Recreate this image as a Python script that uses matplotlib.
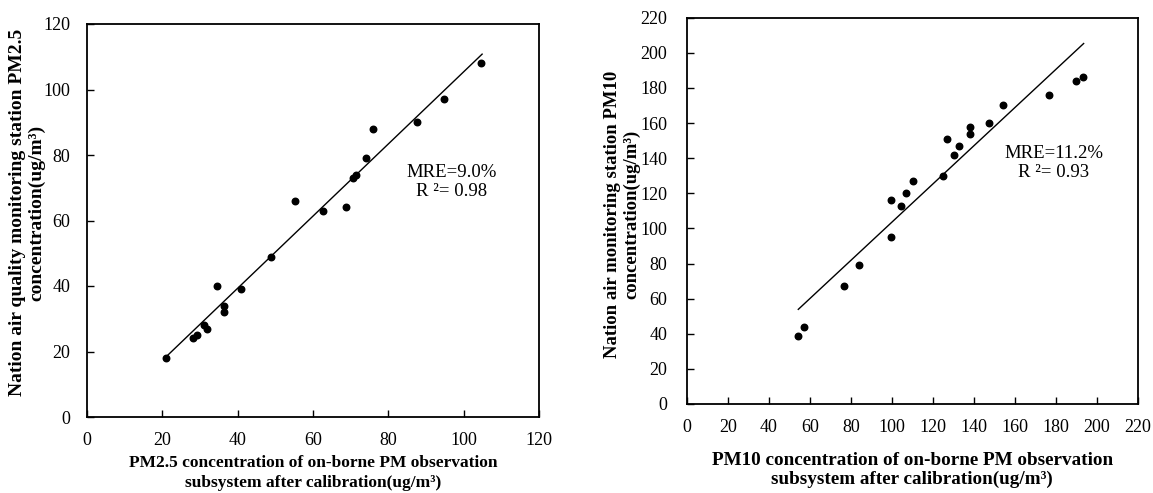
import numpy as np
import matplotlib as mpl
mpl.use('Agg')
import matplotlib.pyplot as plt

# PM2.5 panel
pm25_onborne = [21.1, 28.1, 29.2, 31.0, 31.9, 34.4, 36.3, 36.4, 40.9, 48.9,
                55.2, 62.6, 68.8, 70.5, 71.4, 74.1, 75.9, 87.6, 94.9, 104.7]
pm25_station = [18, 24, 25, 28, 27, 40, 34, 32, 39, 49,
                66, 63, 64, 73, 74, 79, 88, 90, 97, 108]
pm25_fit_x = [21.1, 104.9]
pm25_fit_y = [18.5, 110.8]

# PM10 panel
pm10_onborne = [54.4, 57.4, 76.7, 83.8, 99.8, 99.8, 104.6, 106.9, 110.3, 124.9,
                126.9, 130.5, 132.7, 138.3, 138.3, 147.2, 154.2, 176.4, 189.8, 193.3]
pm10_station = [39, 44, 67, 79, 95, 116, 113, 120, 127, 130,
                151, 142, 147, 158, 154, 160, 170, 176, 184, 186]
pm10_fit_x = [54.4, 193.5]
pm10_fit_y = [53.9, 205.3]

plt.rc('font', family=['Liberation Serif', 'DejaVu Serif'], size=13)

fig_w, fig_h = 1153, 493
fig = plt.figure(figsize=(fig_w/100, fig_h/100), dpi=100)

def px_axes(x0, y0, x1, y1):
    return fig.add_axes([x0/fig_w, 1-y1/fig_h, (x1-x0)/fig_w, (y1-y0)/fig_h])

ax1 = px_axes(87, 24, 539, 417)
ax2 = px_axes(686.7, 17.7, 1138, 404)

def style(ax, ypad):
    ax.tick_params(direction='in', length=5, width=1, labelsize=13)
    ax.tick_params(axis='y', pad=ypad)
    ax.tick_params(axis='x', pad=11)
    for s in ax.spines.values():
        s.set_linewidth(1.3)

ax1.scatter(pm25_onborne, pm25_station, s=22, color='black', zorder=3)
ax1.plot(pm25_fit_x, pm25_fit_y, color='black', lw=1)
ax1.set_xlim(0, 120)
ax1.set_ylim(0, 120)
ax1.set_xticks(np.arange(0, 121, 20))
ax1.set_yticks(np.arange(0, 121, 20))
style(ax1, 12)
ax1.text(96.9, 71.9, 'MRE=9.0%\nR \u00b2= 0.98', ha='center', va='center',
         fontsize=13.5, linespacing=1.15)
ax1.set_xlabel('PM2.5 concentration of on-borne PM observation\n'
               'subsystem after calibration(ug/m\u00b3)',
               fontweight='bold', fontsize=12.5, linespacing=1.3)
ax1.xaxis.set_label_coords(0.5, -0.1425)
ax1.xaxis.label.set_verticalalignment('center')
ax1.set_ylabel('Nation air quality monitoring station PM2.5\n'
               'concentration(ug/m\u00b3)',
               fontweight='bold', fontsize=14, linespacing=1.15,
               va='center', ha='center')
ax1.yaxis.set_label_coords(-0.1316, 0.52)

ax2.scatter(pm10_onborne, pm10_station, s=22, color='black', zorder=3)
ax2.plot(pm10_fit_x, pm10_fit_y, color='black', lw=1)
ax2.set_xlim(0, 220)
ax2.set_ylim(0, 220)
ax2.set_xticks(np.arange(0, 221, 20))
ax2.set_yticks(np.arange(0, 221, 20))
style(ax2, 14)
ax2.text(179.0, 137.5, 'MRE=11.2%\nR \u00b2= 0.93', ha='center', va='center',
         fontsize=13.5, linespacing=1.15)
ax2.set_xlabel('PM10 concentration of on-borne PM observation\n'
               'subsystem after calibration(ug/m\u00b3)',
               fontweight='bold', fontsize=13.8, linespacing=1.15)
ax2.xaxis.set_label_coords(0.5, -0.171)
ax2.xaxis.label.set_verticalalignment('center')
ax2.set_ylabel('Nation air monitoring station PM10\n'
               'concentration(ug/m\u00b3)',
               fontweight='bold', fontsize=13.5, linespacing=1.15,
               va='center', ha='center')
ax2.yaxis.set_label_coords(-0.1434, 0.49)

fig.savefig('out.png', dpi=100)
